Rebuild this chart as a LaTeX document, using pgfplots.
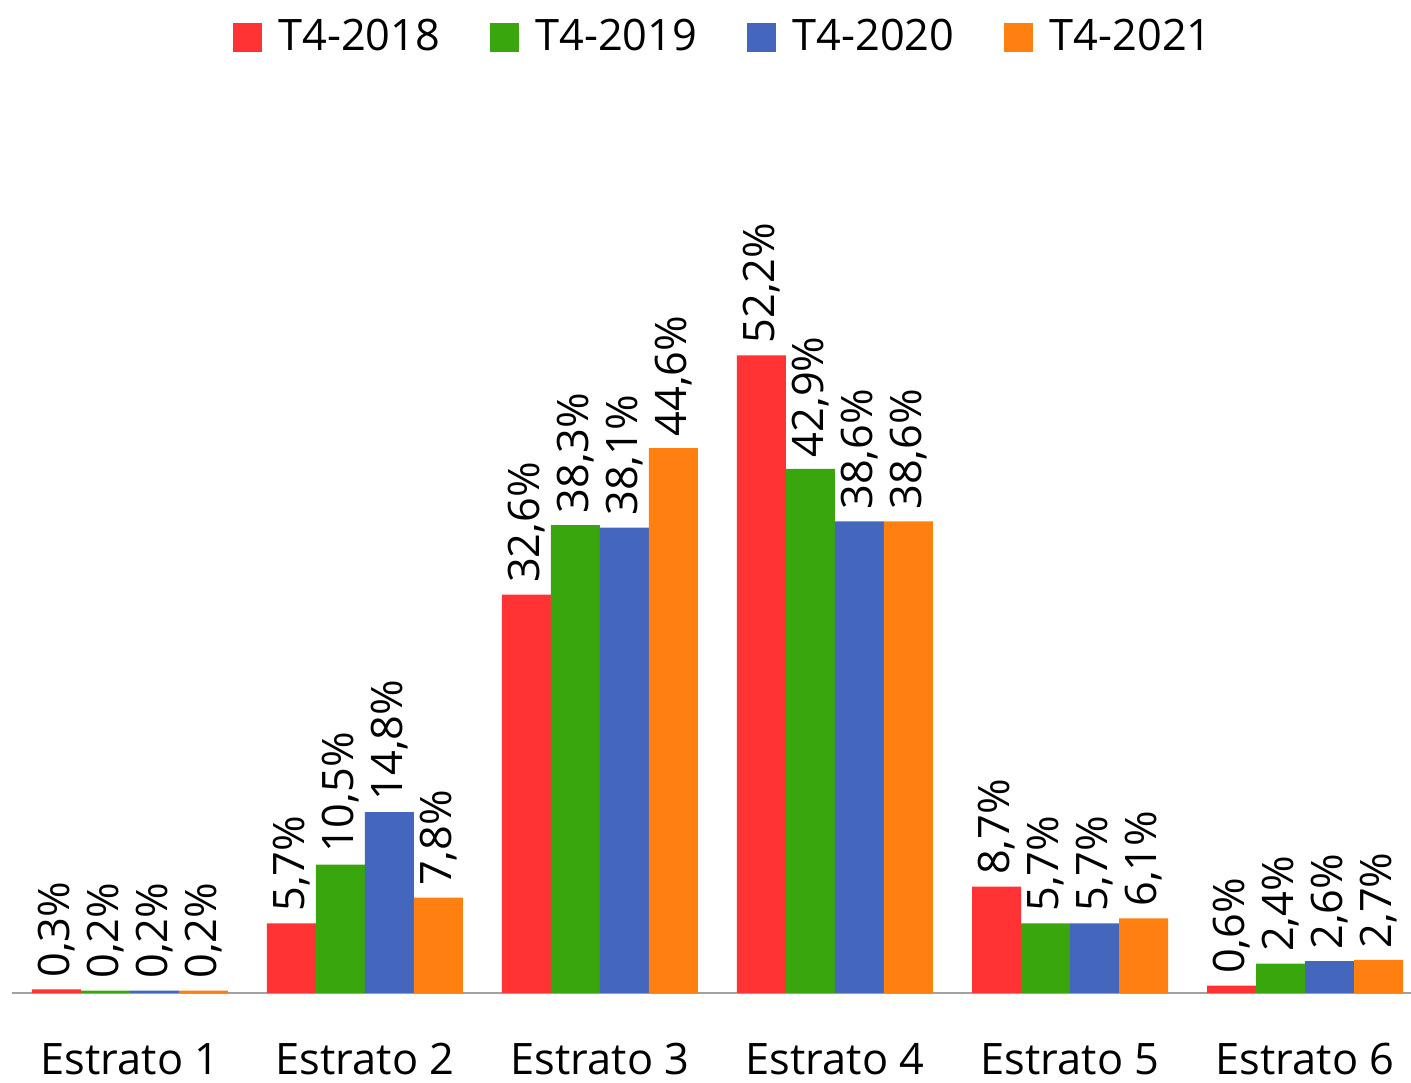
\documentclass[border=0pt]{standalone}
\usepackage{fontspec}
\setmainfont{Open Sans}
\usepackage{pgfplots}
\pgfplotsset{compat=1.18}
\definecolor{cA}{HTML}{FF3333}
\definecolor{cB}{HTML}{38A60C}
\definecolor{cC}{HTML}{4466BD}
\definecolor{cD}{HTML}{FF7F11}
\newcommand{\fs}{\fontsize{13}{15}\selectfont}
\begin{document}
\begin{tikzpicture}
\begin{axis}[
  scale only axis,
  width=419.7pt, height=219.9pt,
  xmin=-0.502, xmax=5.451, ymin=0, ymax=60,
  axis x line=bottom, axis y line=none,
  axis line style={draw=black!37, line width=0.6pt, -},
  xtick={0,1,2,3,4,5},
  xticklabels={Estrato 1,Estrato 2,Estrato 3,Estrato 4,Estrato 5,Estrato 6},
  major tick length=0pt,
  xticklabel style={anchor=base, yshift=-24.6pt, font=\fs},
  ybar=0pt, bar width=14.7pt,
  clip=false,
  nodes near coords={\pgfmathprintnumber[assume math mode=true,fixed,fixed zerofill,precision=1,use comma]{\pgfplotspointmeta}\%},
  every node near coord/.append style={rotate=90, anchor=west, font=\fs, black},
  legend columns=4,
  legend style={draw=none, fill=none, at={(0.510,1.304)}, anchor=center, font=\fs,
    /tikz/every odd column/.append style={column sep=3pt},
    /tikz/every even column/.append style={column sep=12.9pt}},
  legend image code/.code={\fill[#1] (0pt,-4.35pt) rectangle (8.7pt,4.35pt);},
]
\addplot[fill=cA, draw=none] coordinates {(0,0.3) (1,5.7) (2,32.6) (3,52.2) (4,8.7) (5,0.6)};
\addplot[fill=cB, draw=none] coordinates {(0,0.2) (1,10.5) (2,38.3) (3,42.9) (4,5.7) (5,2.4)};
\addplot[fill=cC, draw=none] coordinates {(0,0.2) (1,14.8) (2,38.1) (3,38.6) (4,5.7) (5,2.6)};
\addplot[fill=cD, draw=none] coordinates {(0,0.2) (1,7.8) (2,44.6) (3,38.6) (4,6.1) (5,2.7)};
\legend{T4-2018,T4-2019,T4-2020,T4-2021}
\coordinate (bl) at (rel axis cs:0,0);
\coordinate (tr) at (rel axis cs:1,1);
\end{axis}
\pgfresetboundingbox
\path ([shift={(-3.6pt,-27pt)}]bl) rectangle ([shift={(0pt,78pt)}]tr);
\end{tikzpicture}
\end{document}
